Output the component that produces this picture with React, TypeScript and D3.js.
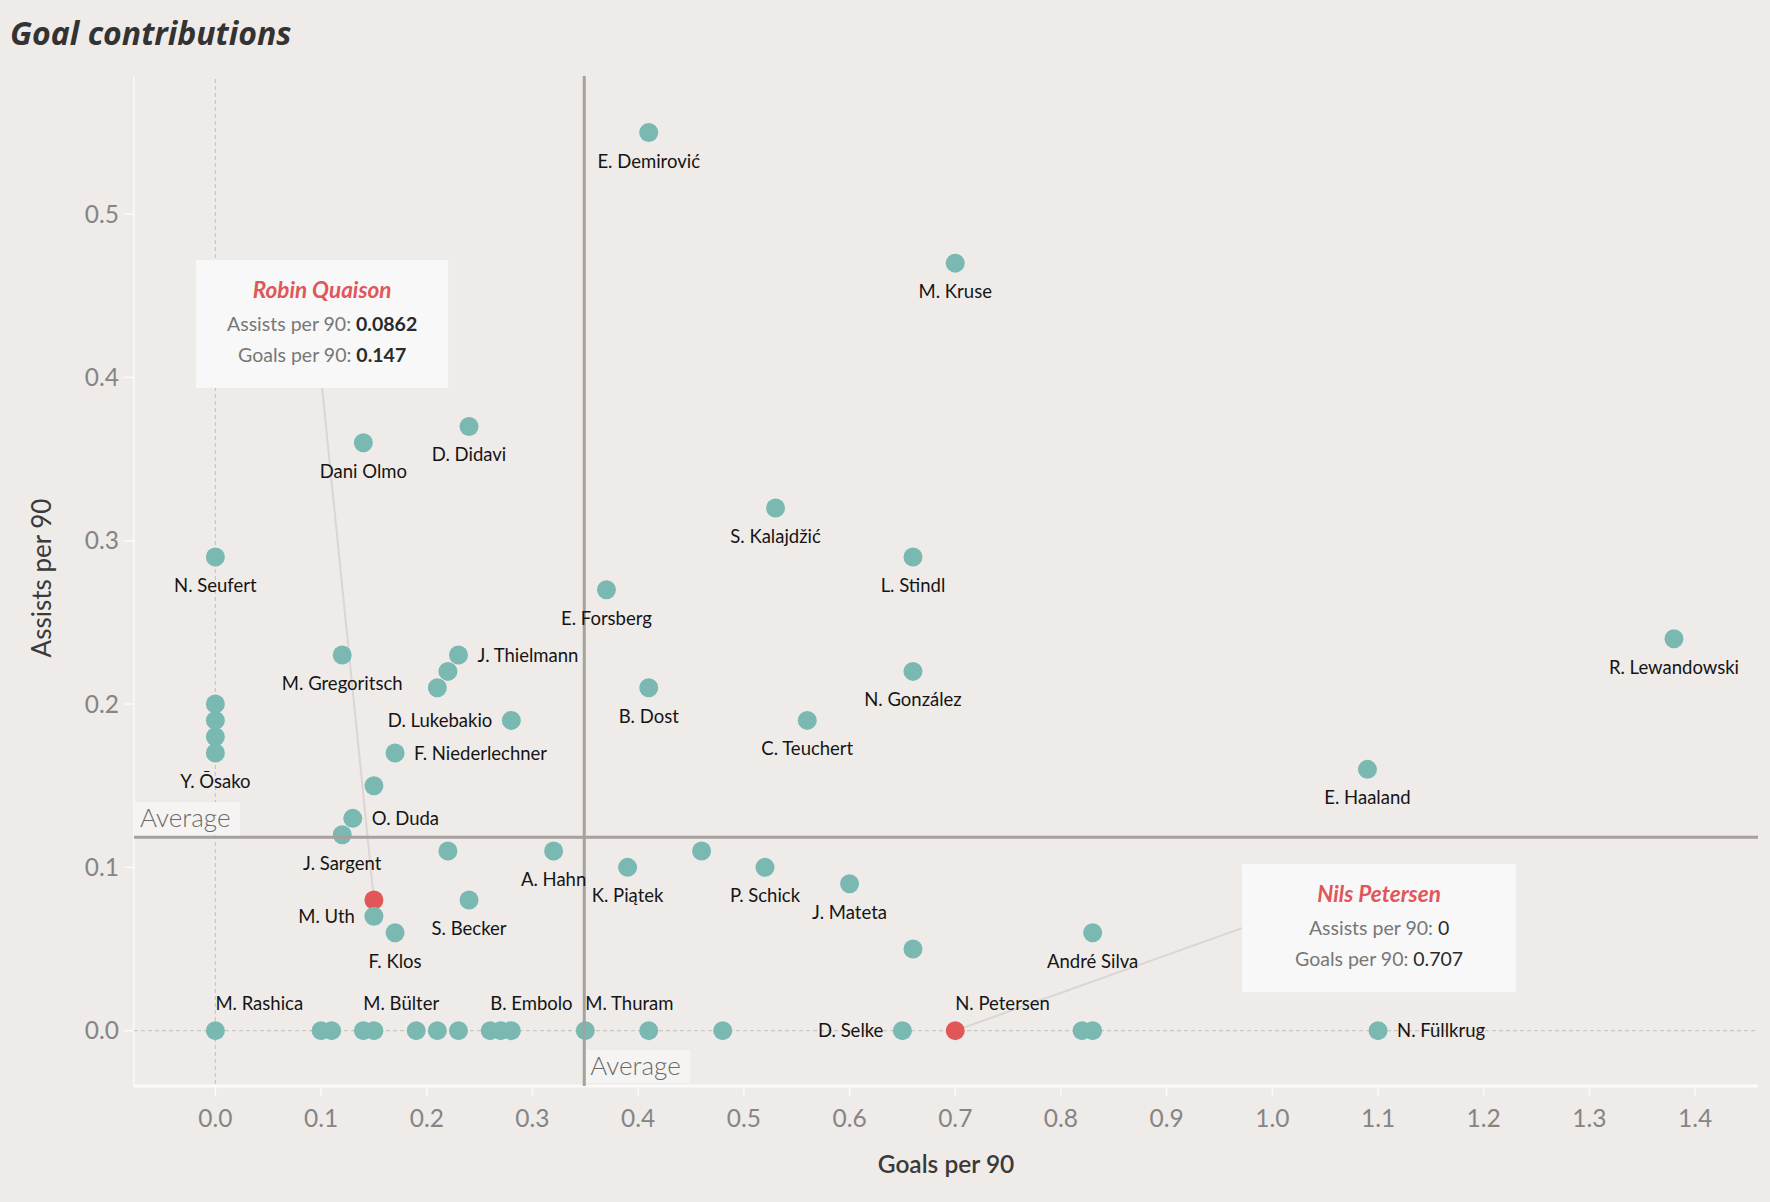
import React from 'react';
import * as d3 from 'd3';

// ---------- DATA ----------
const players = [
  'E. Demirović', 'M. Kruse', 'Dani Olmo', 'D. Didavi', 'S. Kalajdžić', 'N. Seufert', 'L. Stindl',
  'E. Forsberg', 'R. Lewandowski', 'M. Gregoritsch', 'J. Thielmann', '', '', 'D. Lukebakio',
  'B. Dost', 'N. González', 'C. Teuchert', '', '', '', 'Y. Ōsako', 'F. Niederlechner', 'E. Haaland',
  '', 'O. Duda', 'J. Sargent', '', 'A. Hahn', '', 'K. Piątek', 'P. Schick', 'J. Mateta', 'S. Becker',
  'M. Uth', 'F. Klos', 'André Silva', '',
  'M. Rashica', '', '', 'M. Bülter', '', '', '', '', 'B. Embolo', '', '', 'M. Thuram', '', '',
  'D. Selke', '', '', 'N. Füllkrug',
];
const goalsPer90 = [
  0.41, 0.70, 0.14, 0.24, 0.53, 0.00, 0.66,
  0.37, 1.38, 0.12, 0.23, 0.22, 0.21, 0.28,
  0.41, 0.66, 0.56, 0.00, 0.00, 0.00, 0.00, 0.17, 1.09,
  0.15, 0.13, 0.12, 0.22, 0.32, 0.46, 0.39, 0.52, 0.60, 0.24,
  0.15, 0.17, 0.83, 0.66,
  0.00, 0.10, 0.11, 0.14, 0.15, 0.19, 0.21, 0.23, 0.26, 0.27, 0.28, 0.35, 0.41, 0.48,
  0.65, 0.82, 0.83, 1.10,
];
const assistsPer90 = [
  0.55, 0.47, 0.36, 0.37, 0.32, 0.29, 0.29,
  0.27, 0.24, 0.23, 0.23, 0.22, 0.21, 0.19,
  0.21, 0.22, 0.19, 0.20, 0.19, 0.18, 0.17, 0.17, 0.16,
  0.15, 0.13, 0.12, 0.11, 0.11, 0.11, 0.10, 0.10, 0.09, 0.08,
  0.07, 0.06, 0.06, 0.05,
  0, 0, 0, 0, 0, 0, 0, 0, 0, 0, 0, 0, 0, 0,
  0, 0, 0, 0,
];
// label placement: b = below, r = right, l = left, a = above-right
const labelSide = [
  'b', 'b', 'b', 'b', 'b', 'b', 'b',
  'b', 'b', 'b', 'r', '', '', 'l',
  'b', 'b', 'b', '', '', '', 'b', 'r', 'b',
  '', 'r', 'b', '', 'b', '', 'b', 'b', 'b', 'b',
  'l', 'b', 'b', '',
  'a', '', '', 'a', '', '', '', '', 'a', '', '', 'a', '', '',
  'l', '', '', 'r',
];

const highlightNames = ['Robin Quaison', 'Nils Petersen'];
const highlightShort = ['', 'N. Petersen'];
const highlightGoals = [0.15, 0.70];
const highlightAssists = [0.08, 0];
const highlightGoalsText = ['0.147', '0.707'];
const highlightAssistsText = ['0.0862', '0'];
const highlightValueBold = [true, false];
// tooltip anchors in data space: box centre (goals) and box top (assists)
const tooltipGoals = [0.101, 1.101];
const tooltipAssists = [0.472, 0.102];
const tooltipWidths = [252, 274];
const tooltipConnector = ['bottom', 'left'];

const averageGoals = 0.349;
const averageAssists = 0.1185;

const xTicks = [0, 0.1, 0.2, 0.3, 0.4, 0.5, 0.6, 0.7, 0.8, 0.9, 1.0, 1.1, 1.2, 1.3, 1.4];
const yTicks = [0, 0.1, 0.2, 0.3, 0.4, 0.5];

// ---------- LAYOUT ----------
const W = 1770;
const H = 1202;
const plot = { left: 134, right: 1758, top: 76, bottom: 1086 };
const BG = '#efebe8';
const TEAL = '#7ab8b2';
const RED = '#e05659';
const FONT = 'Lato, "Noto Sans", sans-serif';

export default function App() {
  const x = d3.scaleLinear().domain([-0.077, 1.4595]).range([plot.left, plot.right]);
  const y = d3.scaleLinear().domain([-0.0339, 0.5846]).range([plot.bottom, plot.top]);
  const r = 9.5;

  const pts = players.map((name, i) => ({
    name,
    gx: x(goalsPer90[i]),
    ay: y(assistsPer90[i]),
    side: labelSide[i],
  }));

  const labelEl = (name: string, cx: number, cy: number, side: string, key: string) => {
    if (!name || !side) return null;
    const common = { fontFamily: FONT, fontSize: 18.5, fill: '#151515', key } as any;
    if (side === 'b') return <text {...common} x={cx} y={cy + 35} textAnchor="middle">{name}</text>;
    if (side === 'r') return <text {...common} x={cx + 19} y={cy} dy="0.35em" textAnchor="start">{name}</text>;
    if (side === 'l') return <text {...common} x={cx - 19} y={cy} dy="0.35em" textAnchor="end">{name}</text>;
    if (side === 'a') return <text {...common} x={cx} y={cy - 21} textAnchor="start">{name}</text>;
    return null;
  };

  const tooltips = highlightNames.map((nm, i) => {
    const w = tooltipWidths[i];
    const h = 128;
    const cx = x(tooltipGoals[i]);
    const top = y(tooltipAssists[i]);
    const left = cx - w / 2;
    const dx = x(highlightGoals[i]);
    const dy = y(highlightAssists[i]);
    const conn = tooltipConnector[i] === 'bottom'
      ? { x1: cx, y1: top + h }
      : { x1: left, y1: top + h / 2 };
    return { nm, w, h, cx, top, left, dx, dy, conn, i };
  });

  return (
    <svg width={W} height={H} style={{ position: 'absolute', left: 0, top: 0 }} fontFamily={FONT}>
      <rect x={0} y={0} width={W} height={H} fill={BG} />

      {/* title */}
      <text x={10} y={45} fontSize={32} fontWeight={700} fontStyle="italic" fill="#333"
        fontFamily='"Open Sans", Lato, sans-serif'>Goal contributions</text>

      {/* axes lines */}
      <line x1={plot.left} x2={plot.left} y1={plot.top} y2={plot.bottom} stroke="#fbfaf9" strokeWidth={1.5} />
      <line x1={plot.left} x2={plot.right} y1={plot.bottom} y2={plot.bottom} stroke="#fbfaf9" strokeWidth={3} />

      {/* zero lines */}
      <line x1={x(0)} x2={x(0)} y1={plot.top + 3} y2={plot.bottom} stroke="#c9c6c3" strokeWidth={1.2} strokeDasharray="4,3" />
      <line x1={plot.left} x2={plot.right} y1={y(0)} y2={y(0)} stroke="#c9c6c3" strokeWidth={1.2} strokeDasharray="4,3" />

      {/* y ticks */}
      {yTicks.map((t) => (
        <g key={'y' + t}>
          <line x1={plot.left - 10} x2={plot.left} y1={y(t)} y2={y(t)} stroke="#fbfaf9" strokeWidth={1.5} />
          <text x={plot.left - 15} y={y(t)} dy="0.35em" textAnchor="end" fontSize={24.5} fontWeight={400} fill="#858585">
            {d3.format('.1f')(t)}
          </text>
        </g>
      ))}
      {/* x ticks */}
      {xTicks.map((t) => (
        <g key={'x' + t}>
          <line x1={x(t)} x2={x(t)} y1={plot.bottom} y2={plot.bottom + 10} stroke="#fbfaf9" strokeWidth={1.5} />
          <text x={x(t)} y={plot.bottom + 32} dy="0.35em" textAnchor="middle" fontSize={24.5} fontWeight={400} fill="#858585">
            {d3.format('.1f')(t)}
          </text>
        </g>
      ))}

      {/* axis titles */}
      <text x={(plot.left + plot.right) / 2} y={1173} textAnchor="middle" fontSize={24.5} fontWeight={600} fill="#3a3a3a">Goals per 90</text>
      <text transform={`translate(42,${(plot.top + plot.bottom) / 2 - 3}) rotate(-90)`} dy="0.35em" textAnchor="middle" fontSize={26} fontWeight={400} fill="#3a3a3a">Assists per 90</text>

      {/* connectors */}
      {tooltips.map((t) => (
        <line key={'c' + t.i} x1={t.conn.x1} y1={t.conn.y1} x2={t.dx} y2={t.dy} stroke="#d9d6d3" strokeWidth={2} />
      ))}

      {/* highlighted dots */}
      {tooltips.map((t) => (
        <circle key={'h' + t.i} cx={t.dx} cy={t.dy} r={r} fill={RED} />
      ))}

      {/* teal dots */}
      {pts.map((p, i) => (
        <circle key={'p' + i} cx={p.gx} cy={p.ay} r={r} fill={TEAL} />
      ))}

      {/* average lines */}
      <line x1={x(averageGoals)} x2={x(averageGoals)} y1={plot.top} y2={plot.bottom} stroke="#a6a19e" strokeWidth={3} />
      <line x1={plot.left} x2={plot.right} y1={y(averageAssists)} y2={y(averageAssists)} stroke="#a6a19e" strokeWidth={3} />

      {/* labels */}
      {pts.map((p, i) => labelEl(p.name, p.gx, p.ay, p.side, 'l' + i))}
      {tooltips.map((t) => labelEl(highlightShort[t.i], t.dx, t.dy, highlightShort[t.i] ? 'a' : '', 'hl' + t.i))}

      {/* average labels */}
      <rect x={plot.left} y={y(averageAssists) - 35} width={106} height={33} fill="#f5f4f2" />
      <text x={plot.left + 6} y={y(averageAssists) - 10} fontSize={26} fontWeight={300} fill="#6a6a6a">Average</text>
      <rect x={x(averageGoals) + 2} y={plot.bottom - 36} width={104} height={33} fill="#f5f4f2" />
      <text x={x(averageGoals) + 6} y={plot.bottom - 11} fontSize={26} fontWeight={300} fill="#6a6a6a">Average</text>

      {/* tooltips */}
      {tooltips.map((t) => (
        <g key={'t' + t.i}>
          <rect x={t.left} y={t.top} width={t.w} height={t.h} fill="#f8f8f8" />
          <text x={t.cx} y={t.top + 38} textAnchor="middle" fontSize={22.5} fontWeight={700} fontStyle="italic" fill={RED}>{t.nm}</text>
          <text x={t.cx} y={t.top + 71} textAnchor="middle" fontSize={19.5} fill="#777">
            Assists per 90: <tspan fontWeight={highlightValueBold[t.i] ? 700 : 400} fill="#2a2a2a">{highlightAssistsText[t.i]}</tspan>
          </text>
          <text x={t.cx} y={t.top + 102} textAnchor="middle" fontSize={19.5} fill="#777">
            Goals per 90: <tspan fontWeight={highlightValueBold[t.i] ? 700 : 400} fill="#2a2a2a">{highlightGoalsText[t.i]}</tspan>
          </text>
        </g>
      ))}
    </svg>
  );
}
